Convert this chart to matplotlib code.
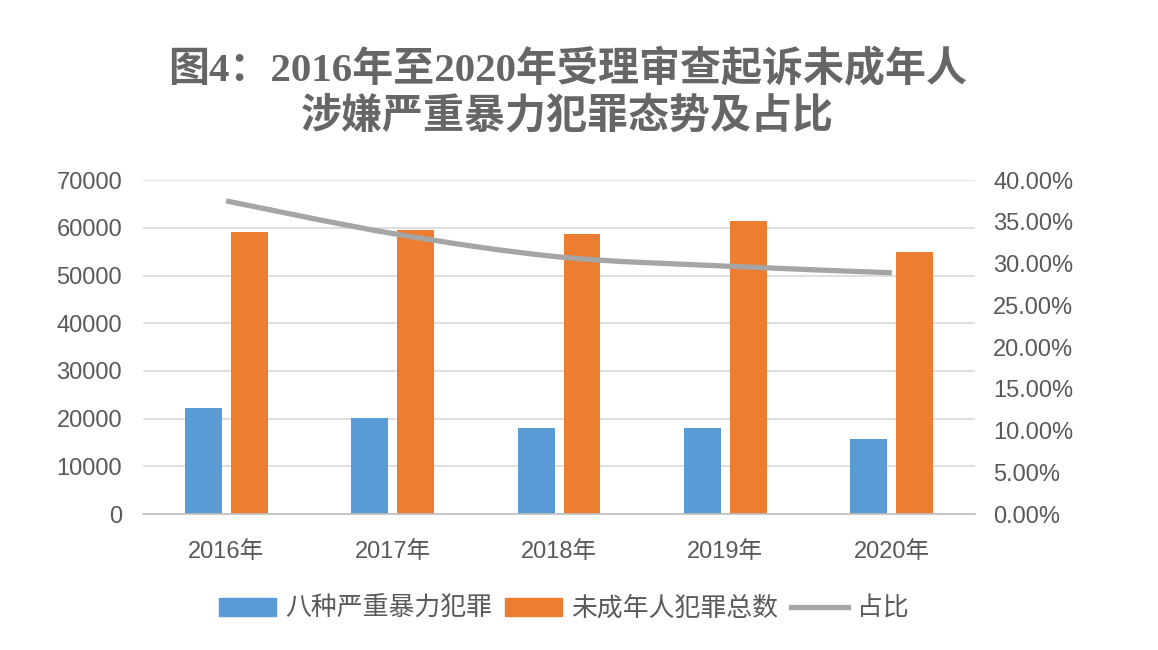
import numpy as np
import matplotlib
matplotlib.use("Agg")
import matplotlib.pyplot as plt
from matplotlib.path import Path
from matplotlib.patches import PathPatch
from matplotlib.lines import Line2D
from matplotlib.ticker import FuncFormatter

plt.rcParams['font.family'] = ['Liberation Sans', 'Noto Sans CJK SC', 'DejaVu Sans']

years = ["2016年", "2017年", "2018年", "2019年", "2020年"]
violent = [22200, 20100, 18000, 18000, 15700]
total = [59100, 59500, 58700, 61400, 54900]
ratio = [0.375, 0.336, 0.308, 0.297, 0.289]

title = "图4：2016年至2020年受理审查起诉未成年人\n涉嫌严重暴力犯罪态势及占比"
labels = ["八种严重暴力犯罪", "未成年人犯罪总数", "占比"]

BLUE = "#5B9BD5"
ORANGE = "#ED7D31"
GRAY = "#A5A5A5"
TEXT = "#595959"


def smooth_path(xs, ys, t=1 / 6):
    """Catmull-Rom style bezier through the points (like Excel's smoothed line)."""
    pts = np.column_stack([xs, ys]).astype(float)
    verts = [pts[0]]
    codes = [Path.MOVETO]
    n = len(pts)
    for i in range(n - 1):
        p0 = pts[max(i - 1, 0)]
        p1 = pts[i]
        p2 = pts[i + 1]
        p3 = pts[min(i + 2, n - 1)]
        c1 = p1 + (p2 - p0) * t
        c2 = p2 - (p3 - p1) * t
        verts += [c1, c2, p2]
        codes += [Path.CURVE4] * 3
    return Path(verts, codes)


fig = plt.figure(figsize=(11.58, 6.5), dpi=100)
ax = fig.add_axes([0.1235, 0.209, 0.7185, 0.514])
ax2 = ax.twinx()

x = np.arange(len(years))
w = 0.222
ax.bar(x - 0.138, violent, w, color=BLUE, zorder=2)
ax.bar(x + 0.138, total, w, color=ORANGE, zorder=2)

ax.set_xlim(-0.5, len(years) - 0.5)
ax.set_ylim(0, 70000)
ax.set_yticks(range(0, 70001, 10000))
ax.set_xticks(x)
ax.set_xticklabels(years)
ax.grid(axis="y", color="#D9D9D9", linewidth=1.2, zorder=0)
ax.set_axisbelow(True)

ax2.set_ylim(0, 0.40)
ax2.set_yticks(np.arange(0, 0.4001, 0.05))
ax2.yaxis.set_major_formatter(FuncFormatter(lambda v, p: f"{v * 100:.2f}%"))
ax2.add_patch(PathPatch(smooth_path(x, ratio), facecolor="none",
                        edgecolor=GRAY, linewidth=3.8, capstyle="butt", zorder=3))

for a in (ax, ax2):
    for s in a.spines.values():
        s.set_visible(False)
    a.tick_params(length=0, colors=TEXT, labelsize=17)
ax.spines["bottom"].set_visible(True)
ax.spines["bottom"].set_color("#BFBFBF")
ax.spines["bottom"].set_linewidth(1.2)
ax.tick_params(axis="y", pad=15)
ax.tick_params(axis="x", pad=19)
ax2.tick_params(axis="y", pad=13)

fig.text(0.49, 0.857, title, ha="center", va="center", fontsize=29.5,
         fontweight="bold", color="#666666", linespacing=1.2,
         family=["Liberation Serif", "Noto Sans CJK SC"])

handles = [
    plt.Rectangle((0, 0), 1, 1, color=BLUE),
    plt.Rectangle((0, 0), 1, 1, color=ORANGE),
    Line2D([0], [0], color=GRAY, linewidth=3.8),
]
fig.legend(handles, labels, loc="center", bbox_to_anchor=(0.487, 0.064),
           ncol=3, frameon=False, fontsize=18.6, labelcolor=TEXT,
           handlelength=2.2, handleheight=0.7, handletextpad=0.35,
           columnspacing=0.5)

fig.savefig("out.png", dpi=100, facecolor="white")
